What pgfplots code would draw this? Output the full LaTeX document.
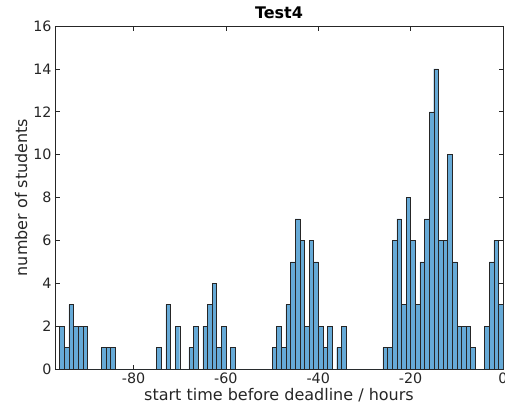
\documentclass[border=0pt]{standalone}
\usepackage{pgfplots}
\pgfplotsset{compat=1.18}
\usepackage{fontspec}
\setmainfont{DejaVu Sans}
\definecolor{barfill}{RGB}{102,170,215}
\definecolor{axgray}{RGB}{38,38,38}
\begin{document}
\begin{tikzpicture}
\begin{axis}[
  scale only axis, width=448pt, height=343pt,
  xmin=-97, xmax=0, ymin=0, ymax=16,
  xtick={-80,-60,-40,-20,0}, ytick={0,2,...,16},
  tick align=inside, major tick length=4.5pt,
  axis line style={axgray, line width=0.6pt},
  every tick/.style={axgray, line width=0.6pt},
  tick label style={font=\fontsize{14.3}{16}\selectfont, text=axgray},
  /pgf/number format/assume math mode=true,
  label style={font=\fontsize{16}{18}\selectfont, text=axgray},
  title style={font=\bfseries\fontsize{16}{18}\selectfont, yshift=-2pt},
  title={Test4},
  xlabel={start time before deadline / hours},
  ylabel={number of students},
  xlabel style={yshift=2pt},
  ylabel style={yshift=-1pt},
]
\addplot[ybar interval, fill=barfill, draw=black!85, line width=0.4pt] table {
x y
-96 2
-95 1
-94 3
-93 2
-92 2
-91 2
-90 0
-89 0
-88 0
-87 1
-86 1
-85 1
-84 0
-83 0
-82 0
-81 0
-80 0
-79 0
-78 0
-77 0
-76 0
-75 1
-74 0
-73 3
-72 0
-71 2
-70 0
-69 0
-68 1
-67 2
-66 0
-65 2
-64 3
-63 4
-62 1
-61 2
-60 0
-59 1
-58 0
-57 0
-56 0
-55 0
-54 0
-53 0
-52 0
-51 0
-50 1
-49 2
-48 1
-47 3
-46 5
-45 7
-44 6
-43 2
-42 6
-41 5
-40 2
-39 1
-38 2
-37 0
-36 1
-35 2
-34 0
-33 0
-32 0
-31 0
-30 0
-29 0
-28 0
-27 0
-26 1
-25 1
-24 6
-23 7
-22 3
-21 8
-20 6
-19 3
-18 5
-17 7
-16 12
-15 14
-14 6
-13 6
-12 10
-11 5
-10 2
-9 2
-8 2
-7 1
-6 0
-5 0
-4 2
-3 5
-2 6
-1 3
0 0
};
\end{axis}
\pgfresetboundingbox
\path ([shift={(-55pt,-44pt)}]current axis.south west) rectangle ([shift={(2pt,26pt)}]current axis.north east);
\end{tikzpicture}
\end{document}
